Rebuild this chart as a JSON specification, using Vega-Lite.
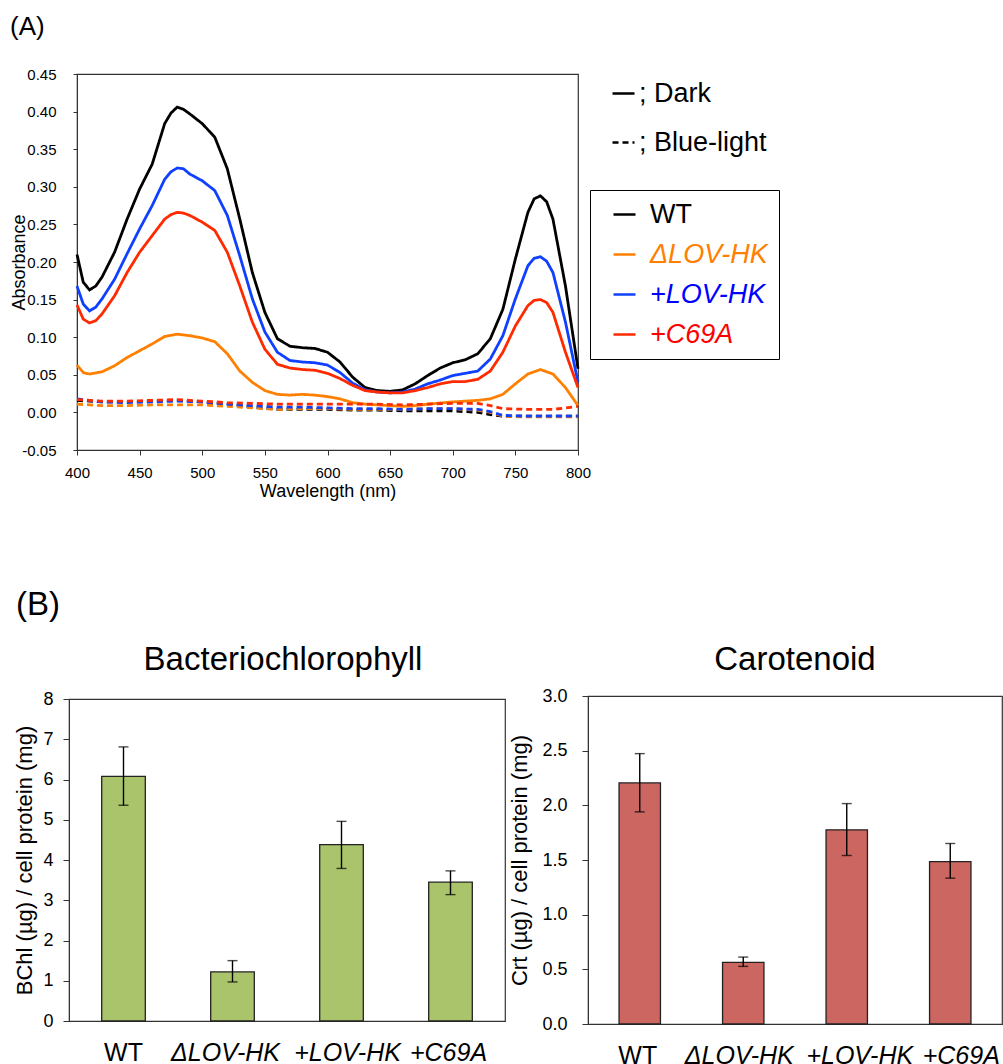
{
"$schema": "https://vega.github.io/schema/vega-lite/v6.json",
"background": "white",
"padding": {"left": 0, "top": 13, "right": 0, "bottom": 0},
"spacing": 88,
"config": {
  "font": "Liberation Sans",
  "view": {"stroke": "#333333", "strokeWidth": 1.2},
  "axis": {"labelFont": "Liberation Sans", "titleFont": "Liberation Sans", "labelColor": "#000000", "titleColor": "#000000", "domainColor": "#333333", "tickColor": "#333333", "grid": false, "titleFontWeight": "normal"},
  "title": {"font": "Liberation Sans", "fontWeight": "normal", "color": "#000000"},
  "legend": {"labelFont": "Liberation Sans", "labelColor": "#000000"}
},
"vconcat": [
 {
  "bounds": "flush",
  "spacing": 0,
  "hconcat": [
  {"width": 77, "height": 376, "mark": "point", "data": {"values": []}, "view": {"stroke": null}},
  {
    "width": 501, "height": 376,
    "title": {"text": "(A)", "anchor": "start", "frame": "group", "dx": -67, "offset": 6, "baseline": "alphabetic", "fontSize": 26},
    "data": {"values": [
{"w":400,"s":"WT","c":"Dark","a":0.210},{"w":405,"s":"WT","c":"Dark","a":0.173},{"w":410,"s":"WT","c":"Dark","a":0.163},{"w":415,"s":"WT","c":"Dark","a":0.168},{"w":420,"s":"WT","c":"Dark","a":0.180},{"w":430,"s":"WT","c":"Dark","a":0.213},{"w":440,"s":"WT","c":"Dark","a":0.257},{"w":450,"s":"WT","c":"Dark","a":0.297},{"w":460,"s":"WT","c":"Dark","a":0.330},{"w":470,"s":"WT","c":"Dark","a":0.384},{"w":475,"s":"WT","c":"Dark","a":0.398},{"w":480,"s":"WT","c":"Dark","a":0.406},{"w":485,"s":"WT","c":"Dark","a":0.403},{"w":490,"s":"WT","c":"Dark","a":0.397},{"w":500,"s":"WT","c":"Dark","a":0.384},{"w":510,"s":"WT","c":"Dark","a":0.366},{"w":520,"s":"WT","c":"Dark","a":0.324},{"w":530,"s":"WT","c":"Dark","a":0.257},{"w":540,"s":"WT","c":"Dark","a":0.186},{"w":550,"s":"WT","c":"Dark","a":0.133},{"w":560,"s":"WT","c":"Dark","a":0.098},{"w":570,"s":"WT","c":"Dark","a":0.088},{"w":580,"s":"WT","c":"Dark","a":0.086},{"w":590,"s":"WT","c":"Dark","a":0.085},{"w":600,"s":"WT","c":"Dark","a":0.080},{"w":610,"s":"WT","c":"Dark","a":0.067},{"w":620,"s":"WT","c":"Dark","a":0.047},{"w":630,"s":"WT","c":"Dark","a":0.033},{"w":640,"s":"WT","c":"Dark","a":0.029},{"w":650,"s":"WT","c":"Dark","a":0.028},{"w":660,"s":"WT","c":"Dark","a":0.030},{"w":670,"s":"WT","c":"Dark","a":0.038},{"w":680,"s":"WT","c":"Dark","a":0.049},{"w":690,"s":"WT","c":"Dark","a":0.059},{"w":700,"s":"WT","c":"Dark","a":0.066},{"w":710,"s":"WT","c":"Dark","a":0.070},{"w":720,"s":"WT","c":"Dark","a":0.078},{"w":730,"s":"WT","c":"Dark","a":0.098},{"w":740,"s":"WT","c":"Dark","a":0.137},{"w":750,"s":"WT","c":"Dark","a":0.204},{"w":760,"s":"WT","c":"Dark","a":0.266},{"w":765,"s":"WT","c":"Dark","a":0.284},{"w":770,"s":"WT","c":"Dark","a":0.288},{"w":775,"s":"WT","c":"Dark","a":0.280},{"w":780,"s":"WT","c":"Dark","a":0.257},{"w":790,"s":"WT","c":"Dark","a":0.168},{"w":800,"s":"WT","c":"Dark","a":0.058},
{"w":400,"s":"+LOV-HK","c":"Dark","a":0.168},{"w":405,"s":"+LOV-HK","c":"Dark","a":0.144},{"w":410,"s":"+LOV-HK","c":"Dark","a":0.135},{"w":415,"s":"+LOV-HK","c":"Dark","a":0.140},{"w":420,"s":"+LOV-HK","c":"Dark","a":0.151},{"w":430,"s":"+LOV-HK","c":"Dark","a":0.177},{"w":440,"s":"+LOV-HK","c":"Dark","a":0.211},{"w":450,"s":"+LOV-HK","c":"Dark","a":0.244},{"w":460,"s":"+LOV-HK","c":"Dark","a":0.275},{"w":470,"s":"+LOV-HK","c":"Dark","a":0.310},{"w":475,"s":"+LOV-HK","c":"Dark","a":0.320},{"w":480,"s":"+LOV-HK","c":"Dark","a":0.325},{"w":485,"s":"+LOV-HK","c":"Dark","a":0.324},{"w":490,"s":"+LOV-HK","c":"Dark","a":0.317},{"w":500,"s":"+LOV-HK","c":"Dark","a":0.308},{"w":510,"s":"+LOV-HK","c":"Dark","a":0.295},{"w":520,"s":"+LOV-HK","c":"Dark","a":0.262},{"w":530,"s":"+LOV-HK","c":"Dark","a":0.208},{"w":540,"s":"+LOV-HK","c":"Dark","a":0.151},{"w":550,"s":"+LOV-HK","c":"Dark","a":0.107},{"w":560,"s":"+LOV-HK","c":"Dark","a":0.080},{"w":570,"s":"+LOV-HK","c":"Dark","a":0.069},{"w":580,"s":"+LOV-HK","c":"Dark","a":0.067},{"w":590,"s":"+LOV-HK","c":"Dark","a":0.066},{"w":600,"s":"+LOV-HK","c":"Dark","a":0.063},{"w":610,"s":"+LOV-HK","c":"Dark","a":0.053},{"w":620,"s":"+LOV-HK","c":"Dark","a":0.039},{"w":630,"s":"+LOV-HK","c":"Dark","a":0.030},{"w":640,"s":"+LOV-HK","c":"Dark","a":0.027},{"w":650,"s":"+LOV-HK","c":"Dark","a":0.026},{"w":660,"s":"+LOV-HK","c":"Dark","a":0.027},{"w":670,"s":"+LOV-HK","c":"Dark","a":0.031},{"w":680,"s":"+LOV-HK","c":"Dark","a":0.038},{"w":690,"s":"+LOV-HK","c":"Dark","a":0.043},{"w":700,"s":"+LOV-HK","c":"Dark","a":0.049},{"w":710,"s":"+LOV-HK","c":"Dark","a":0.052},{"w":720,"s":"+LOV-HK","c":"Dark","a":0.055},{"w":730,"s":"+LOV-HK","c":"Dark","a":0.071},{"w":740,"s":"+LOV-HK","c":"Dark","a":0.102},{"w":750,"s":"+LOV-HK","c":"Dark","a":0.151},{"w":760,"s":"+LOV-HK","c":"Dark","a":0.195},{"w":765,"s":"+LOV-HK","c":"Dark","a":0.205},{"w":770,"s":"+LOV-HK","c":"Dark","a":0.207},{"w":775,"s":"+LOV-HK","c":"Dark","a":0.201},{"w":780,"s":"+LOV-HK","c":"Dark","a":0.186},{"w":790,"s":"+LOV-HK","c":"Dark","a":0.120},{"w":800,"s":"+LOV-HK","c":"Dark","a":0.040},
{"w":400,"s":"+C69A","c":"Dark","a":0.143},{"w":405,"s":"+C69A","c":"Dark","a":0.124},{"w":410,"s":"+C69A","c":"Dark","a":0.119},{"w":415,"s":"+C69A","c":"Dark","a":0.122},{"w":420,"s":"+C69A","c":"Dark","a":0.131},{"w":430,"s":"+C69A","c":"Dark","a":0.155},{"w":440,"s":"+C69A","c":"Dark","a":0.186},{"w":450,"s":"+C69A","c":"Dark","a":0.213},{"w":460,"s":"+C69A","c":"Dark","a":0.235},{"w":470,"s":"+C69A","c":"Dark","a":0.257},{"w":475,"s":"+C69A","c":"Dark","a":0.263},{"w":480,"s":"+C69A","c":"Dark","a":0.266},{"w":485,"s":"+C69A","c":"Dark","a":0.265},{"w":490,"s":"+C69A","c":"Dark","a":0.262},{"w":500,"s":"+C69A","c":"Dark","a":0.253},{"w":510,"s":"+C69A","c":"Dark","a":0.242},{"w":520,"s":"+C69A","c":"Dark","a":0.213},{"w":530,"s":"+C69A","c":"Dark","a":0.168},{"w":540,"s":"+C69A","c":"Dark","a":0.120},{"w":550,"s":"+C69A","c":"Dark","a":0.084},{"w":560,"s":"+C69A","c":"Dark","a":0.064},{"w":570,"s":"+C69A","c":"Dark","a":0.059},{"w":580,"s":"+C69A","c":"Dark","a":0.057},{"w":590,"s":"+C69A","c":"Dark","a":0.056},{"w":600,"s":"+C69A","c":"Dark","a":0.052},{"w":610,"s":"+C69A","c":"Dark","a":0.045},{"w":620,"s":"+C69A","c":"Dark","a":0.036},{"w":630,"s":"+C69A","c":"Dark","a":0.029},{"w":640,"s":"+C69A","c":"Dark","a":0.027},{"w":650,"s":"+C69A","c":"Dark","a":0.026},{"w":660,"s":"+C69A","c":"Dark","a":0.026},{"w":670,"s":"+C69A","c":"Dark","a":0.029},{"w":680,"s":"+C69A","c":"Dark","a":0.033},{"w":690,"s":"+C69A","c":"Dark","a":0.038},{"w":700,"s":"+C69A","c":"Dark","a":0.041},{"w":710,"s":"+C69A","c":"Dark","a":0.041},{"w":720,"s":"+C69A","c":"Dark","a":0.044},{"w":730,"s":"+C69A","c":"Dark","a":0.055},{"w":740,"s":"+C69A","c":"Dark","a":0.080},{"w":750,"s":"+C69A","c":"Dark","a":0.115},{"w":760,"s":"+C69A","c":"Dark","a":0.142},{"w":765,"s":"+C69A","c":"Dark","a":0.149},{"w":770,"s":"+C69A","c":"Dark","a":0.150},{"w":775,"s":"+C69A","c":"Dark","a":0.146},{"w":780,"s":"+C69A","c":"Dark","a":0.133},{"w":790,"s":"+C69A","c":"Dark","a":0.080},{"w":800,"s":"+C69A","c":"Dark","a":0.033},
{"w":400,"s":"ΔLOV-HK","c":"Dark","a":0.063},{"w":405,"s":"ΔLOV-HK","c":"Dark","a":0.053},{"w":410,"s":"ΔLOV-HK","c":"Dark","a":0.051},{"w":420,"s":"ΔLOV-HK","c":"Dark","a":0.054},{"w":430,"s":"ΔLOV-HK","c":"Dark","a":0.062},{"w":440,"s":"ΔLOV-HK","c":"Dark","a":0.073},{"w":450,"s":"ΔLOV-HK","c":"Dark","a":0.082},{"w":460,"s":"ΔLOV-HK","c":"Dark","a":0.091},{"w":470,"s":"ΔLOV-HK","c":"Dark","a":0.101},{"w":480,"s":"ΔLOV-HK","c":"Dark","a":0.104},{"w":490,"s":"ΔLOV-HK","c":"Dark","a":0.102},{"w":500,"s":"ΔLOV-HK","c":"Dark","a":0.099},{"w":510,"s":"ΔLOV-HK","c":"Dark","a":0.094},{"w":520,"s":"ΔLOV-HK","c":"Dark","a":0.078},{"w":530,"s":"ΔLOV-HK","c":"Dark","a":0.055},{"w":540,"s":"ΔLOV-HK","c":"Dark","a":0.040},{"w":550,"s":"ΔLOV-HK","c":"Dark","a":0.029},{"w":560,"s":"ΔLOV-HK","c":"Dark","a":0.024},{"w":570,"s":"ΔLOV-HK","c":"Dark","a":0.023},{"w":580,"s":"ΔLOV-HK","c":"Dark","a":0.024},{"w":590,"s":"ΔLOV-HK","c":"Dark","a":0.023},{"w":600,"s":"ΔLOV-HK","c":"Dark","a":0.021},{"w":610,"s":"ΔLOV-HK","c":"Dark","a":0.018},{"w":620,"s":"ΔLOV-HK","c":"Dark","a":0.013},{"w":630,"s":"ΔLOV-HK","c":"Dark","a":0.011},{"w":640,"s":"ΔLOV-HK","c":"Dark","a":0.010},{"w":650,"s":"ΔLOV-HK","c":"Dark","a":0.009},{"w":660,"s":"ΔLOV-HK","c":"Dark","a":0.008},{"w":670,"s":"ΔLOV-HK","c":"Dark","a":0.009},{"w":680,"s":"ΔLOV-HK","c":"Dark","a":0.011},{"w":690,"s":"ΔLOV-HK","c":"Dark","a":0.0125},{"w":700,"s":"ΔLOV-HK","c":"Dark","a":0.014},{"w":710,"s":"ΔLOV-HK","c":"Dark","a":0.015},{"w":720,"s":"ΔLOV-HK","c":"Dark","a":0.016},{"w":730,"s":"ΔLOV-HK","c":"Dark","a":0.018},{"w":740,"s":"ΔLOV-HK","c":"Dark","a":0.024},{"w":750,"s":"ΔLOV-HK","c":"Dark","a":0.038},{"w":760,"s":"ΔLOV-HK","c":"Dark","a":0.051},{"w":770,"s":"ΔLOV-HK","c":"Dark","a":0.057},{"w":780,"s":"ΔLOV-HK","c":"Dark","a":0.051},{"w":790,"s":"ΔLOV-HK","c":"Dark","a":0.033},{"w":800,"s":"ΔLOV-HK","c":"Dark","a":0.009},
{"w":400,"s":"WT","c":"Blue-light","a":0.016},{"w":420,"s":"WT","c":"Blue-light","a":0.014},{"w":440,"s":"WT","c":"Blue-light","a":0.014},{"w":460,"s":"WT","c":"Blue-light","a":0.015},{"w":480,"s":"WT","c":"Blue-light","a":0.016},{"w":500,"s":"WT","c":"Blue-light","a":0.014},{"w":520,"s":"WT","c":"Blue-light","a":0.011},{"w":540,"s":"WT","c":"Blue-light","a":0.007},{"w":560,"s":"WT","c":"Blue-light","a":0.004},{"w":580,"s":"WT","c":"Blue-light","a":0.004},{"w":600,"s":"WT","c":"Blue-light","a":0.004},{"w":620,"s":"WT","c":"Blue-light","a":0.003},{"w":640,"s":"WT","c":"Blue-light","a":0.003},{"w":660,"s":"WT","c":"Blue-light","a":0.002},{"w":680,"s":"WT","c":"Blue-light","a":0.002},{"w":700,"s":"WT","c":"Blue-light","a":0.002},{"w":720,"s":"WT","c":"Blue-light","a":0.000},{"w":730,"s":"WT","c":"Blue-light","a":-0.003},{"w":740,"s":"WT","c":"Blue-light","a":-0.005},{"w":760,"s":"WT","c":"Blue-light","a":-0.005},{"w":780,"s":"WT","c":"Blue-light","a":-0.005},{"w":800,"s":"WT","c":"Blue-light","a":-0.005},
{"w":400,"s":"ΔLOV-HK","c":"Blue-light","a":0.011},{"w":420,"s":"ΔLOV-HK","c":"Blue-light","a":0.009},{"w":440,"s":"ΔLOV-HK","c":"Blue-light","a":0.009},{"w":460,"s":"ΔLOV-HK","c":"Blue-light","a":0.010},{"w":480,"s":"ΔLOV-HK","c":"Blue-light","a":0.010},{"w":500,"s":"ΔLOV-HK","c":"Blue-light","a":0.010},{"w":520,"s":"ΔLOV-HK","c":"Blue-light","a":0.008},{"w":540,"s":"ΔLOV-HK","c":"Blue-light","a":0.006},{"w":560,"s":"ΔLOV-HK","c":"Blue-light","a":0.004},{"w":580,"s":"ΔLOV-HK","c":"Blue-light","a":0.005},{"w":600,"s":"ΔLOV-HK","c":"Blue-light","a":0.005},{"w":620,"s":"ΔLOV-HK","c":"Blue-light","a":0.004},{"w":640,"s":"ΔLOV-HK","c":"Blue-light","a":0.004},{"w":660,"s":"ΔLOV-HK","c":"Blue-light","a":0.004},{"w":680,"s":"ΔLOV-HK","c":"Blue-light","a":0.005},{"w":700,"s":"ΔLOV-HK","c":"Blue-light","a":0.005},{"w":720,"s":"ΔLOV-HK","c":"Blue-light","a":0.003},{"w":730,"s":"ΔLOV-HK","c":"Blue-light","a":0.000},{"w":740,"s":"ΔLOV-HK","c":"Blue-light","a":-0.005},{"w":760,"s":"ΔLOV-HK","c":"Blue-light","a":-0.006},{"w":780,"s":"ΔLOV-HK","c":"Blue-light","a":-0.006},{"w":800,"s":"ΔLOV-HK","c":"Blue-light","a":-0.006},
{"w":400,"s":"+LOV-HK","c":"Blue-light","a":0.018},{"w":420,"s":"+LOV-HK","c":"Blue-light","a":0.014},{"w":440,"s":"+LOV-HK","c":"Blue-light","a":0.013},{"w":460,"s":"+LOV-HK","c":"Blue-light","a":0.014},{"w":480,"s":"+LOV-HK","c":"Blue-light","a":0.015},{"w":500,"s":"+LOV-HK","c":"Blue-light","a":0.014},{"w":520,"s":"+LOV-HK","c":"Blue-light","a":0.011},{"w":540,"s":"+LOV-HK","c":"Blue-light","a":0.009},{"w":560,"s":"+LOV-HK","c":"Blue-light","a":0.007},{"w":580,"s":"+LOV-HK","c":"Blue-light","a":0.007},{"w":600,"s":"+LOV-HK","c":"Blue-light","a":0.006},{"w":620,"s":"+LOV-HK","c":"Blue-light","a":0.005},{"w":640,"s":"+LOV-HK","c":"Blue-light","a":0.005},{"w":660,"s":"+LOV-HK","c":"Blue-light","a":0.004},{"w":680,"s":"+LOV-HK","c":"Blue-light","a":0.005},{"w":700,"s":"+LOV-HK","c":"Blue-light","a":0.005},{"w":720,"s":"+LOV-HK","c":"Blue-light","a":0.004},{"w":730,"s":"+LOV-HK","c":"Blue-light","a":0.001},{"w":740,"s":"+LOV-HK","c":"Blue-light","a":-0.004},{"w":760,"s":"+LOV-HK","c":"Blue-light","a":-0.005},{"w":780,"s":"+LOV-HK","c":"Blue-light","a":-0.005},{"w":800,"s":"+LOV-HK","c":"Blue-light","a":-0.005},
{"w":400,"s":"+C69A","c":"Blue-light","a":0.017},{"w":420,"s":"+C69A","c":"Blue-light","a":0.015},{"w":440,"s":"+C69A","c":"Blue-light","a":0.015},{"w":460,"s":"+C69A","c":"Blue-light","a":0.016},{"w":480,"s":"+C69A","c":"Blue-light","a":0.017},{"w":500,"s":"+C69A","c":"Blue-light","a":0.015},{"w":520,"s":"+C69A","c":"Blue-light","a":0.013},{"w":540,"s":"+C69A","c":"Blue-light","a":0.012},{"w":560,"s":"+C69A","c":"Blue-light","a":0.011},{"w":580,"s":"+C69A","c":"Blue-light","a":0.011},{"w":600,"s":"+C69A","c":"Blue-light","a":0.011},{"w":620,"s":"+C69A","c":"Blue-light","a":0.011},{"w":640,"s":"+C69A","c":"Blue-light","a":0.011},{"w":660,"s":"+C69A","c":"Blue-light","a":0.010},{"w":680,"s":"+C69A","c":"Blue-light","a":0.011},{"w":700,"s":"+C69A","c":"Blue-light","a":0.012},{"w":720,"s":"+C69A","c":"Blue-light","a":0.012},{"w":730,"s":"+C69A","c":"Blue-light","a":0.009},{"w":740,"s":"+C69A","c":"Blue-light","a":0.005},{"w":760,"s":"+C69A","c":"Blue-light","a":0.004},{"w":780,"s":"+C69A","c":"Blue-light","a":0.004},{"w":790,"s":"+C69A","c":"Blue-light","a":0.006},{"w":800,"s":"+C69A","c":"Blue-light","a":0.008}
    ]},
    "mark": {"type": "line", "strokeWidth": 2.8},
    "encoding": {
      "x": {"field": "w", "type": "quantitative", "scale": {"domain": [400, 800], "nice": false},
            "axis": {"title": "Wavelength (nm)", "values": [400,450,500,550,600,650,700,750,800], "labelFlush": false, "labelFontSize": 15, "titleFontSize": 18, "tickSize": 5, "labelPadding": 10, "titlePadding": 2}},
      "y": {"field": "a", "type": "quantitative", "scale": {"domain": [-0.05, 0.45], "nice": false, "zero": false},
            "axis": {"title": "Absorbance", "values": [-0.05,0,0.05,0.1,0.15,0.2,0.25,0.3,0.35,0.4,0.45], "format": ".2f", "labelExpr": "replace(datum.label, '\u2212', '-')", "labelFontSize": 15, "titleFontSize": 18, "tickSize": 4, "labelPadding": 17, "titlePadding": -7}},
      "color": {"field": "s", "type": "nominal",
                "scale": {"domain": ["WT", "ΔLOV-HK", "+LOV-HK", "+C69A"], "range": ["#000000", "#FF8000", "#1040FF", "#FF2A00"]},
                "legend": {"orient": "none", "legendX": 590, "legendY": 116, "direction": "vertical", "title": null, "strokeColor": "#000000", "fillColor": "#ffffff", "padding": 11, "symbolType": "stroke", "symbolSize": 484, "symbolStrokeWidth": 2.5, "symbolOffset": 10, "labelOffset": 12, "labelFontSize": 27, "rowPadding": 12,
                           "labelColor": {"expr": "datum.value == 'WT' ? '#000000' : datum.value == '+LOV-HK' ? '#0000FF' : datum.value == '+C69A' ? '#FF0000' : '#FF8000'"},
                           "labelFontStyle": {"expr": "datum.value == 'WT' ? 'normal' : 'italic'"}}},
      "strokeDash": {"field": "c", "type": "nominal",
                "scale": {"domain": ["Dark", "Blue-light"], "range": [[1, 0], [6, 4]]},
                "legend": {"orient": "none", "legendX": 610, "legendY": 6, "direction": "vertical", "title": null, "padding": 0, "symbolType": "stroke", "symbolSize": 484, "symbolStrokeWidth": 2.5, "symbolStrokeColor": "#000000", "symbolDash": [6, 2], "labelOffset": 2, "labelFontSize": 27, "rowPadding": 21, "labelExpr": "'; ' + datum.label"}}
    }
  }
  ]
 },
 {
  "bounds": "flush",
  "spacing": 0,
  "center": true,
  "hconcat": [
  {"width": 69, "height": 328, "mark": "point", "data": {"values": []}, "view": {"stroke": null},
   "title": {"text": "(B)", "anchor": "start", "frame": "group", "dx": 16, "offset": 48, "baseline": "alphabetic", "fontSize": 33}},
  {
    "width": 436, "height": 322,
    "title": {"text": "Bacteriochlorophyll", "fontSize": 33, "offset": 0, "dy": 13, "baseline": "alphabetic", "dx": -4},
    "data": {"values": [
      {"s": "WT", "v": 6.08, "lo": 5.36, "hi": 6.81},
      {"s": "ΔLOV-HK", "v": 1.22, "lo": 0.97, "hi": 1.50},
      {"s": "+LOV-HK", "v": 4.38, "lo": 3.79, "hi": 4.96},
      {"s": "+C69A", "v": 3.45, "lo": 3.14, "hi": 3.73}
    ]},
    "encoding": {
      "x": {"field": "s", "type": "nominal", "sort": ["WT", "ΔLOV-HK", "+LOV-HK", "+C69A"], "scale": {"paddingInner": 0.6, "paddingOuter": 0.3},
            "axis": {"title": null, "labelAngle": 0, "labelFontSize": 25, "ticks": false, "tickSize": 0, "labelPadding": 19,
                     "labelOffset": {"expr": "datum.value == '+LOV-HK' ? 6 : datum.value == 'ΔLOV-HK' ? -7 : datum.value == '+C69A' ? -2 : 0"},
                     "labelFontStyle": {"condition": {"test": "datum.value != 'WT'", "value": "italic"}, "value": "normal"}}}
    },
    "layer": [
      {"mark": {"type": "bar", "color": "#A9C46A", "stroke": "#222222", "strokeWidth": 1.3},
       "encoding": {"y": {"field": "v", "type": "quantitative", "scale": {"domain": [0, 8], "nice": false},
                          "axis": {"title": "BChl (µg) / cell protein (mg)", "values": [0,1,2,3,4,5,6,7,8], "labelFontSize": 18, "titleFontSize": 22, "tickSize": 6, "labelPadding": 10, "titlePadding": 6}}}},
      {"mark": {"type": "rule", "color": "#000000", "strokeWidth": 1.4},
       "encoding": {"y": {"field": "lo", "type": "quantitative"}, "y2": {"field": "hi"}}},
      {"mark": {"type": "tick", "color": "#000000", "thickness": 1.4, "size": 10},
       "encoding": {"y": {"field": "lo", "type": "quantitative"}}},
      {"mark": {"type": "tick", "color": "#000000", "thickness": 1.4, "size": 10},
       "encoding": {"y": {"field": "hi", "type": "quantitative"}}}
    ]
  },
  {"width": 83, "height": 328, "mark": "point", "data": {"values": []}, "view": {"stroke": null}},
  {
    "width": 414, "height": 328,
    "title": {"text": "Carotenoid", "fontSize": 33, "offset": 0, "dy": 16, "baseline": "alphabetic"},
    "data": {"values": [
      {"s": "WT", "v": 2.205, "lo": 1.94, "hi": 2.473},
      {"s": "ΔLOV-HK", "v": 0.563, "lo": 0.527, "hi": 0.612},
      {"s": "+LOV-HK", "v": 1.776, "lo": 1.541, "hi": 2.016},
      {"s": "+C69A", "v": 1.486, "lo": 1.334, "hi": 1.651}
    ]},
    "encoding": {
      "x": {"field": "s", "type": "nominal", "sort": ["WT", "ΔLOV-HK", "+LOV-HK", "+C69A"], "scale": {"paddingInner": 0.6, "paddingOuter": 0.3},
            "axis": {"title": null, "labelAngle": 0, "labelFontSize": 25, "ticks": false, "tickSize": 0, "labelPadding": 19,
                     "labelOffset": {"expr": "datum.value == '+LOV-HK' ? 13 : datum.value == 'ΔLOV-HK' ? -4 : datum.value == '+C69A' ? 11 : -2"},
                     "labelFontStyle": {"condition": {"test": "datum.value != 'WT'", "value": "italic"}, "value": "normal"}}}
    },
    "layer": [
      {"mark": {"type": "bar", "color": "#CC6660", "stroke": "#222222", "strokeWidth": 1.3},
       "encoding": {"y": {"field": "v", "type": "quantitative", "scale": {"domain": [0, 3], "nice": false},
                          "axis": {"title": "Crt (µg) / cell protein (mg)", "values": [0,0.5,1,1.5,2,2.5,3], "format": ".1f", "labelFontSize": 18, "titleFontSize": 22, "tickSize": 6, "labelPadding": 15, "titlePadding": 10}}}},
      {"mark": {"type": "rule", "color": "#000000", "strokeWidth": 1.4},
       "encoding": {"y": {"field": "lo", "type": "quantitative"}, "y2": {"field": "hi"}}},
      {"mark": {"type": "tick", "color": "#000000", "thickness": 1.4, "size": 10},
       "encoding": {"y": {"field": "lo", "type": "quantitative"}}},
      {"mark": {"type": "tick", "color": "#000000", "thickness": 1.4, "size": 10},
       "encoding": {"y": {"field": "hi", "type": "quantitative"}}}
    ]
  }
  ]
 }
]
}
